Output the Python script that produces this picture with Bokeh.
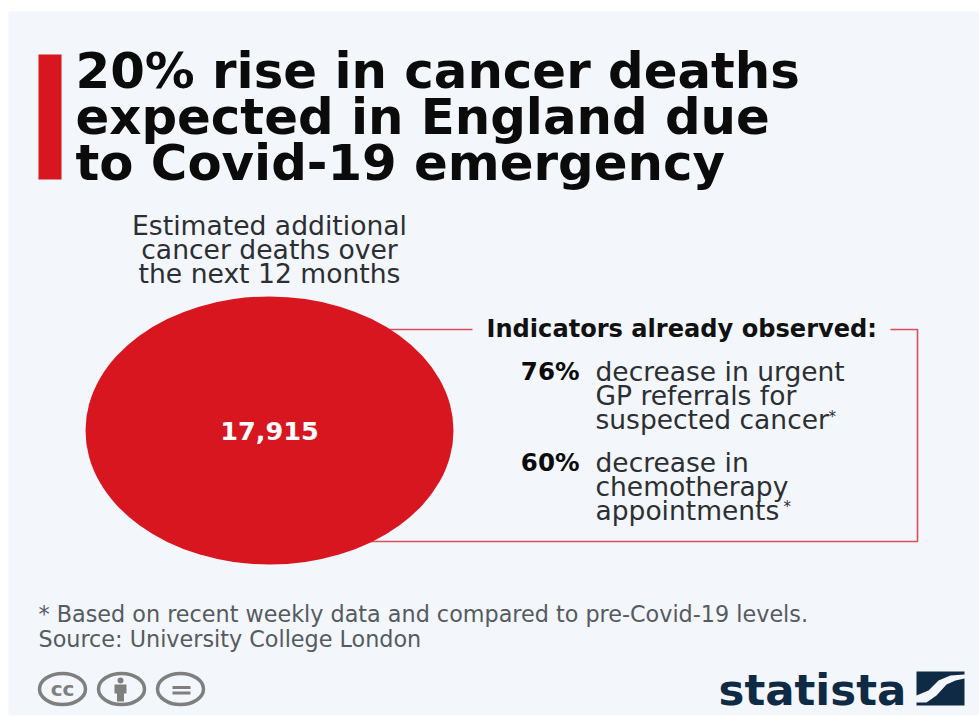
from bokeh.plotting import figure
from bokeh.models import Range1d
from bokeh.core.properties import value
from bokeh.embed import file_html
from bokeh.resources import INLINE

# Copy
title_lines = ["20% rise in cancer deaths", "expected in England due", "to Covid-19 emergency"]
subtitle_lines = ["Estimated additional", "cancer deaths over", "the next 12 months"]
headline_value = "17,915"
indicator_heading = "Indicators already observed:"
indicator_pcts = ["76%", "60%"]
indicator_texts = [
    ["decrease in urgent", "GP referrals for", "suspected cancer"],
    ["decrease in", "chemotherapy", "appointments"],
]
footnotes = ["* Based on recent weekly data and compared to pre-Covid-19 levels.",
             "Source: University College London"]

RED = "#d81620"
NAVY = "#0f2a44"
PANEL = "#f3f6fa"
DARK = "#2b2f33"
GREY = "#555b60"
ICON = "#7f7f7f"
LINE = "#d9505a"
WIDE = value("DejaVu Sans")

p = figure(width=979, height=718, output_backend="svg", toolbar_location=None,
           x_range=Range1d(0, 979), y_range=Range1d(718, 0), min_border=0,
           x_axis_location=None, y_axis_location=None, outline_line_color=None,
           background_fill_color="white", border_fill_color="white")
p.grid.visible = False

def label(x, y, text, size, color, style="normal", align="left"):
    p.text([x], [y], text=[text], text_font=WIDE, text_font_size=f"{size}px",
           text_font_style=style, text_color=color, text_align=align, text_baseline="middle")

# Panel and title marker
p.quad(left=8, right=979, top=11, bottom=715, fill_color=PANEL, line_color=None)
p.quad(left=38, right=61, top=54, bottom=179, fill_color=RED, line_color=None)

for y, line in zip([70, 116, 162], title_lines):
    label(75, y, line, 49.8, "#0b0b0b", style="bold")

for y, line in zip([225, 249, 273], subtitle_lines):
    label(269, y, line, 26.6, DARK, align="center")

# Connector frame joining the circle to the indicators
p.line([380, 472], [329, 329], line_color=LINE, line_width=1.6)
p.line([890, 917, 917, 370], [329, 329, 541, 541], line_color=LINE, line_width=1.6)

p.ellipse(x=[269], y=[430], width=[368], height=[268], fill_color=RED, line_color=None)
label(269, 430, headline_value, 25.5, "white", style="bold", align="center")

label(486, 328, indicator_heading, 24.1, "#111111", style="bold")
for pct, y0, lines in zip(indicator_pcts, [371, 462], indicator_texts):
    label(579, y0, pct, 24.5, "#0b0b0b", style="bold", align="right")
    for i, line in enumerate(lines):
        label(595, y0 + i * 24, line, 26.5, DARK)

# Raised footnote markers
label(828, 416, "*", 15, DARK)
label(783, 506, "*", 15, DARK)

for y, line in zip([613, 638], footnotes):
    label(38, y, line, 22.3, GREY)

# Creative Commons badges
for cx in [62, 121, 180]:
    p.ellipse(x=[cx], y=[688.5], width=[46], height=[31], fill_color=None, line_color=ICON, line_width=3.5)
label(62, 688, "cc", 20, ICON, style="bold", align="center")
p.ellipse(x=[120], y=[680], width=[6], height=[6], fill_color=ICON, line_color=None)
p.patch([114, 126, 126, 123.5, 123.5, 116.5, 116.5, 114], [684, 684, 693, 693, 701, 701, 693, 693],
        fill_color=ICON, line_color=None)
p.quad(left=172, right=190, top=685.5, bottom=688.5, fill_color=ICON, line_color=None)
p.quad(left=172, right=190, top=691, bottom=694, fill_color=ICON, line_color=None)

# Statista wordmark
label(718, 689, "statista", 43.5, NAVY, style="bold")
p.patch([916, 964, 964, 950, 938, 928, 916], [671, 671, 674, 675, 680, 690, 695], fill_color=NAVY, line_color=None)
p.patch([916, 926, 936, 946, 955, 964, 964, 916], [702, 702, 695, 684, 680, 678, 705, 705], fill_color=NAVY, line_color=None)

open("out.html", "w").write(file_html(p, INLINE))
